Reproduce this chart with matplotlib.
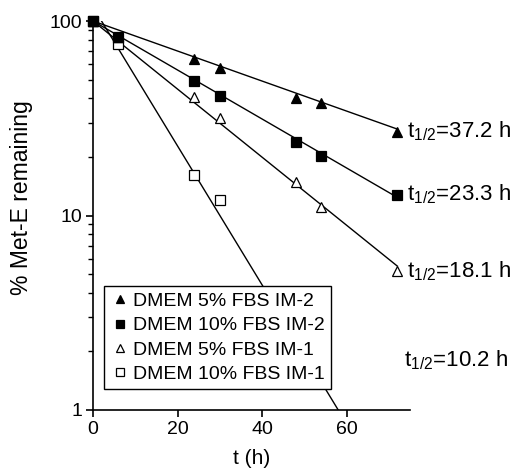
import matplotlib
matplotlib.use("Agg")
import matplotlib.pyplot as plt
import numpy as np
from matplotlib.ticker import LogLocator, FixedLocator, NullFormatter

plt.rcParams['font.family'] = ['Liberation Sans', 'DejaVu Sans']
plt.rcParams['mathtext.fontset'] = 'custom'
plt.rcParams['mathtext.rm'] = 'Liberation Sans'
plt.rcParams['mathtext.it'] = 'Liberation Sans'
plt.rcParams['mathtext.default'] = 'rm'

# Data
labels = ["DMEM 5% FBS IM-2", "DMEM 10% FBS IM-2", "DMEM 5% FBS IM-1", "DMEM 10% FBS IM-1"]
t_a = [0, 6, 24, 30, 48, 54, 72]
v_a = [100, 83, 63.5, 57, 40, 37.8, 27.0]
t_b = [0, 6, 24, 30, 48, 54, 72]
v_b = [100, 83, 49, 41, 24, 20.2, 12.8]
t_c = [0, 6, 24, 30, 48, 54, 72]
v_c = [100, 83, 40.6, 31.8, 14.9, 11.0, 5.2]
t_d = [0, 6, 24, 30]
v_d = [100, 76.5, 16.1, 12.0]

# Fitted lines (intercept, half-life, t range)
fit_A = [100, 100, 100, 118]
fit_hl = [39.0, 23.9, 17.2, 8.43]
fit_t0 = [0.5, 0.5, 0.5, 2.0]
fit_t1 = [72, 72, 72, 58.0]

halflife_text = ["37.2", "23.3", "18.1", "10.2"]

fig = plt.figure(figsize=(5.16, 4.68), dpi=100)
ax = fig.add_axes([93/516, 58/468, 317/516, 389/468])

series = [(t_a, v_a), (t_b, v_b), (t_c, v_c), (t_d, v_d)]
markers = ['^', 's', '^', 's']
faces = ['black', 'black', 'white', 'white']
sizes = [7.5, 7.0, 7.0, 7.0]
zorders = [4, 5, 3.5, 3]

for i in range(4):
    tt = np.linspace(fit_t0[i], fit_t1[i], 200)
    yy = fit_A[i] * 2 ** (-tt / fit_hl[i])
    ax.plot(tt, yy, color='black', lw=1.0, zorder=2)

handles = []
for i, (t, v) in enumerate(series):
    h, = ax.plot(t, v, linestyle='none', marker=markers[i], ms=sizes[i],
                 mfc=faces[i], mec='black', mew=0.9, zorder=zorders[i],
                 label=labels[i], clip_on=False)
    handles.append(h)

ax.set_yscale('log')
ax.set_ylim(1, 100)
ax.set_xlim(0, 75)

ax.spines['top'].set_visible(False)
ax.spines['right'].set_visible(False)
for s in ['left', 'bottom']:
    ax.spines[s].set_linewidth(1.2)

ax.xaxis.set_major_locator(FixedLocator([0, 20, 40, 60]))
ax.yaxis.set_major_locator(FixedLocator([1, 10, 100]))
ax.set_yticklabels(['1', '10', '100'])
ax.yaxis.set_minor_locator(LogLocator(base=10, subs=np.arange(2, 10)))
ax.yaxis.set_minor_formatter(NullFormatter())
ax.tick_params(axis='both', which='major', direction='out', length=5, width=1.2,
               labelsize=14, pad=3)
ax.tick_params(axis='y', which='minor', direction='out', length=3.5, width=1.0)

ax.set_xlabel('t (h)', fontsize=15, labelpad=8)
ax.set_ylabel('% Met-E remaining', fontsize=16.5)
ax.yaxis.set_label_coords(-0.19, 0.545)

# half-life labels
ends = [(72, v_a[-1]), (72, v_b[-1]), (72, v_c[-1]), (72, 1.8)]
for i, (x, y) in enumerate(ends):
    ax.annotate(r"t$_{1/2}$=" + halflife_text[i] + " h", xy=(x, y),
                xytext=(7 if i < 3 else 5, 0), textcoords='offset points',
                fontsize=16, va='center', ha='left', annotation_clip=False)

leg = ax.legend(handles=handles, loc='lower left', bbox_to_anchor=(11/317, 21/389),
                fontsize=14, frameon=True, fancybox=False, edgecolor='black',
                framealpha=1, borderpad=0.3, labelspacing=0.35, handletextpad=0.2,
                handlelength=1.0, borderaxespad=0, markerscale=0.75)
leg.get_frame().set_linewidth(1.0)
leg.set_zorder(6)

fig.savefig('out.png', dpi=100)
